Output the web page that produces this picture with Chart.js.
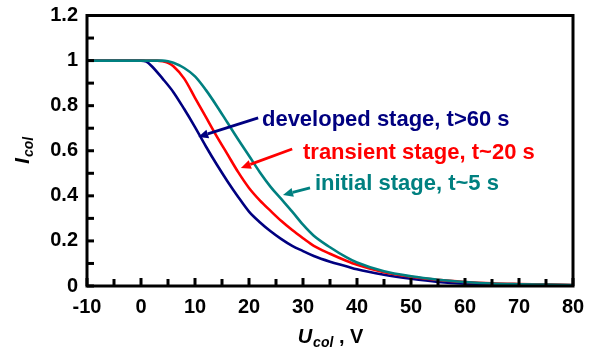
<!DOCTYPE html>
<html>
<head>
<meta charset="utf-8">
<script src="https://cdn.jsdelivr.net/npm/chart.js@4.4.0/dist/chart.umd.min.js"></script>
<style>
  html, body { margin: 0; padding: 0; background: #fff; }
  #wrap { width: 595px; height: 351px; }
</style>
</head>
<body>
<div id="wrap"><canvas id="grafico"></canvas></div>
<script>
// Datos (U_col en V, I_col normalizada)
const uDeveloped = [-10, 0, 1, 2, 4, 6, 8, 10, 12, 14, 16, 18, 20, 22, 24, 26, 28, 30, 32, 35, 38, 40, 45, 50, 55, 60, 65, 70, 75, 80];
const iDeveloped = [1, 1, 0.995, 0.975, 0.92, 0.86, 0.785, 0.705, 0.62, 0.54, 0.465, 0.395, 0.33, 0.283, 0.243, 0.208, 0.178, 0.155, 0.133, 0.108, 0.088, 0.074, 0.05, 0.032, 0.018, 0.01, 0.007, 0.005, 0.004, 0.003];

const uTransient = [-10, 0, 3, 4, 5, 6, 8, 10, 12, 14, 16, 18, 20, 22, 24, 26, 28, 30, 32, 35, 38, 40, 45, 50, 55, 60, 65, 70, 75, 80];
const iTransient = [1, 1, 1, 0.997, 0.99, 0.975, 0.92, 0.835, 0.75, 0.665, 0.585, 0.505, 0.435, 0.38, 0.333, 0.288, 0.248, 0.212, 0.178, 0.143, 0.112, 0.094, 0.061, 0.041, 0.027, 0.018, 0.012, 0.009, 0.007, 0.004];

const uInitial = [-10, 0, 4, 5, 6, 8, 10, 12, 14, 16, 18, 20, 22, 24, 26, 28, 30, 32, 35, 38, 40, 45, 50, 55, 60, 65, 70, 75, 80];
const iInitial = [1, 1, 1, 0.997, 0.99, 0.967, 0.93, 0.87, 0.80, 0.725, 0.65, 0.578, 0.505, 0.44, 0.385, 0.33, 0.272, 0.223, 0.172, 0.128, 0.104, 0.065, 0.043, 0.028, 0.018, 0.011, 0.008, 0.006, 0.004];

const xTicks = [-10, 0, 10, 20, 30, 40, 50, 60, 70, 80];
const yTicks = [0, 0.2, 0.4, 0.6, 0.8, 1, 1.2];

// Etiquetas con flecha: texto, color, inicio/punta de la flecha y posicion del texto (en unidades de datos)
const etiquetas = [
    { texto: 'developed stage, t>60 s', color: '#000080', cola: [21.7, 0.746], punta: [10.6, 0.661], pos: [22.4, 0.710] },
    { texto: 'transient stage, t~20 s', color: '#ff0000', cola: [28.0, 0.608], punta: [18.5, 0.524], pos: [30.0, 0.564] },
    { texto: 'initial stage, t~5 s', color: '#008080', cola: [31.3, 0.435], punta: [26.3, 0.404], pos: [32.2, 0.428] }
];

const FUENTE = '"Liberation Sans", Arial, sans-serif';

function puntos(xs, ys) {
    return xs.map((x, i) => ({ x: x, y: ys[i] }));
}

// Plugin para el marco, las marcas hacia dentro, titulos con subindice y flechas
const decoraciones = {
    id: 'decoraciones',
    afterDraw(chart) {
        const ctx = chart.ctx;
        const a = chart.chartArea;
        const sx = chart.scales.x;
        const sy = chart.scales.y;
        ctx.save();
        ctx.strokeStyle = '#000';
        ctx.lineWidth = 3;
        ctx.lineCap = 'butt';
        // marcas del eje x
        for (let v = -10; v <= 80; v += 5) {
            const px = sx.getPixelForValue(v);
            const len = (v % 10 === 0) ? 8 : 7;
            ctx.beginPath();
            ctx.moveTo(px, a.bottom);
            ctx.lineTo(px, a.bottom - len);
            ctx.stroke();
        }
        // marcas del eje y
        for (let k = 0; k <= 12; k++) {
            const py = sy.getPixelForValue(k / 10);
            ctx.beginPath();
            ctx.moveTo(a.left, py);
            ctx.lineTo(a.left + 7, py);
            ctx.stroke();
        }
        // marco
        ctx.strokeRect(a.left, a.top, a.right - a.left, a.bottom - a.top);

        // flechas y textos
        etiquetas.forEach(function (e) {
            const x0 = sx.getPixelForValue(e.cola[0]), y0 = sy.getPixelForValue(e.cola[1]);
            const x1 = sx.getPixelForValue(e.punta[0]), y1 = sy.getPixelForValue(e.punta[1]);
            const ang = Math.atan2(y1 - y0, x1 - x0);
            const largo = 10, ancho = 4.5;
            const bx = x1 - largo * Math.cos(ang), by = y1 - largo * Math.sin(ang);
            ctx.strokeStyle = e.color;
            ctx.fillStyle = e.color;
            ctx.lineWidth = 2.8;
            ctx.beginPath();
            ctx.moveTo(x0, y0);
            ctx.lineTo(bx, by);
            ctx.stroke();
            ctx.beginPath();
            ctx.moveTo(x1, y1);
            ctx.lineTo(bx + ancho * Math.sin(ang), by - ancho * Math.cos(ang));
            ctx.lineTo(bx - ancho * Math.sin(ang), by + ancho * Math.cos(ang));
            ctx.closePath();
            ctx.fill();
            ctx.font = 'bold 22px ' + FUENTE;
            ctx.textAlign = 'left';
            ctx.textBaseline = 'alphabetic';
            ctx.fillText(e.texto, sx.getPixelForValue(e.pos[0]), sy.getPixelForValue(e.pos[1]));
        });

        // titulo del eje x: U_col , V
        ctx.fillStyle = '#000';
        ctx.textBaseline = 'alphabetic';
        ctx.textAlign = 'left';
        const fMain = 'italic bold 20px ' + FUENTE;
        const fSub = 'italic bold 14px ' + FUENTE;
        const fPlain = 'bold 20px ' + FUENTE;
        ctx.font = fMain; const wU = ctx.measureText('U').width;
        ctx.font = fSub; const wC = ctx.measureText('col').width;
        ctx.font = fPlain; const wV = ctx.measureText(' , V').width;
        let xx = (a.left + a.right) / 2 - (wU + wC + wV) / 2;
        const base = 343;
        ctx.font = fMain; ctx.fillText('U', xx, base); xx += wU + 1;
        ctx.font = fSub; ctx.fillText('col', xx, base + 4); xx += wC;
        ctx.font = fPlain; ctx.fillText(' , V', xx, base);

        // titulo del eje y: I_col (girado)
        ctx.translate(29, (a.top + a.bottom) / 2);
        ctx.rotate(-Math.PI / 2);
        ctx.font = fMain; const wI = ctx.measureText('I').width;
        ctx.font = fSub; const wC2 = ctx.measureText('col').width;
        let yy = -(wI + wC2) / 2;
        ctx.font = fMain; ctx.fillText('I', yy, 0); yy += wI + 1;
        ctx.font = fSub; ctx.fillText('col', yy, 4);
        ctx.restore();
    }
};

const ctx = document.getElementById('grafico').getContext('2d');
const grafico = new Chart(ctx, {
    type: 'line',
    data: {
        datasets: [
            { label: 'initial stage, t~5 s', data: puntos(uInitial, iInitial), borderColor: '#008080' },
            { label: 'transient stage, t~20 s', data: puntos(uTransient, iTransient), borderColor: '#ff0000' },
            { label: 'developed stage, t>60 s', data: puntos(uDeveloped, iDeveloped), borderColor: '#000080' }
        ]
    },
    options: {
        responsive: true,
        maintainAspectRatio: false,
        animation: false,
        layout: { padding: { top: 15.5, right: 22, left: 0, bottom: 0 } },
        elements: {
            point: { radius: 0 },
            line: { borderWidth: 2.6, cubicInterpolationMode: 'monotone', fill: false }
        },
        plugins: {
            legend: { display: false },
            tooltip: { enabled: false }
        },
        scales: {
            x: {
                type: 'linear',
                min: -10,
                max: 80,
                afterFit: function (scale) {
                    scale.height = 65;
                    scale.paddingLeft = 0;
                    scale.paddingRight = 0;
                },
                afterBuildTicks: function (scale) { scale.ticks = xTicks.map(v => ({ value: v })); },
                grid: { display: false, drawTicks: false },
                border: { display: false },
                ticks: {
                    padding: 9,
                    color: '#000',
                    font: { family: FUENTE, size: 20, weight: 'bold' }
                }
            },
            y: {
                min: 0,
                max: 1.2,
                afterFit: function (scale) {
                    scale.width = 87;
                    scale.paddingTop = 0;
                    scale.paddingBottom = 0;
                },
                afterBuildTicks: function (scale) { scale.ticks = yTicks.map(v => ({ value: v })); },
                grid: { display: false, drawTicks: false },
                border: { display: false },
                ticks: {
                    padding: 9,
                    color: '#000',
                    font: { family: FUENTE, size: 20, weight: 'bold' },
                    callback: function (v) { return String(Math.round(v * 10) / 10); }
                }
            }
        }
    },
    plugins: [decoraciones]
});
</script>
</body>
</html>
